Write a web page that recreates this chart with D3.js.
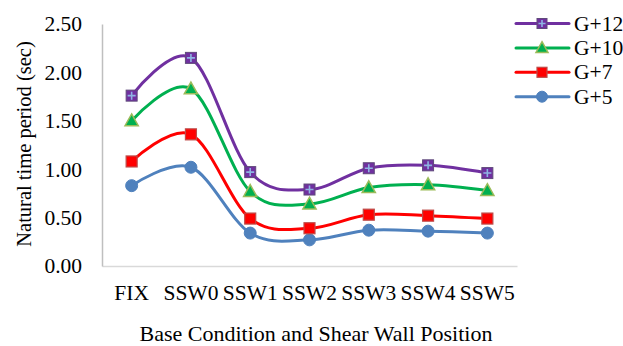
<!DOCTYPE html>
<html><head><meta charset="utf-8">
<script src="https://cdn.jsdelivr.net/npm/d3@7"></script>
<style>body{margin:0;background:#fff}svg{display:block}text{font-family:"Liberation Serif",serif;fill:#000}</style>
</head><body><svg id="c" width="623" height="346"></svg>
<script>
const categories = ["FIX","SSW0","SSW1","SSW2","SSW3","SSW4","SSW5"];
const seriesNames = ["G+12","G+10","G+7","G+5"];
const g12 = [1.76,2.15,0.97,0.79,1.01,1.04,0.96];
const g10 = [1.50,1.83,0.77,0.64,0.81,0.84,0.78];
const g7  = [1.08,1.36,0.49,0.39,0.53,0.52,0.49];
const g5  = [0.83,1.02,0.34,0.27,0.37,0.36,0.34];
const yTicks = [0,0.5,1,1.5,2,2.5];
const colors = ["#7030a0","#00b050","#ff0000","#4f81bd"];
const markers = ["plus","triangle","square","circle"];
const seriesVals = [g12,g10,g7,g5];

const svg = d3.select("#c");
const x = d3.scaleBand().domain(categories).range([102,517]);
const y = d3.scaleLinear().domain([0,2.5]).range([266,24]);
const fs = 21.5;

// axes
const xa = svg.append("g").attr("transform","translate(0,266)")
  .call(d3.axisBottom(x).tickSize(0).tickPadding(19));
xa.select(".domain").attr("stroke","#d9d9d9").attr("stroke-width",1.5);
xa.selectAll("text").attr("font-size",fs).attr("font-family","Liberation Serif");
const ya = svg.append("g").attr("transform","translate(102,0)")
  .call(d3.axisLeft(y).tickValues(yTicks).tickFormat(d3.format(".2f")).tickSize(0).tickPadding(20));
ya.select(".domain").attr("stroke","#bfbfbf").attr("stroke-width",1.5);
ya.selectAll("text").attr("font-size",fs).attr("font-family","Liberation Serif");

svg.append("text").attr("x",316).attr("y",341).attr("text-anchor","middle")
  .attr("font-size",22).text("Base Condition and Shear Wall Position");
svg.append("text").attr("transform","translate(31,144) rotate(-90)").attr("text-anchor","middle")
  .attr("font-size",20.5).text("Natural time period (sec)");

function drawMarker(g, type, color, cx, cy, s){
  if(type==="plus"){
    g.append("rect").attr("x",cx-s/2).attr("y",cy-s/2).attr("width",s).attr("height",s)
      .attr("fill",color).attr("stroke","#604a7b").attr("stroke-width",1);
    g.append("path").attr("d",`M${cx-s/2+1.5},${cy}H${cx+s/2-1.5}M${cx},${cy-s/2+1.5}V${cy+s/2-1.5}`)
      .attr("stroke","#8eb4e3").attr("stroke-width",1.6);
  } else if(type==="triangle"){
    const h=s*1.0;
    g.append("path").attr("d",`M${cx},${cy-h*0.62}L${cx+s*0.6},${cy+h*0.45}L${cx-s*0.6},${cy+h*0.45}Z`)
      .attr("fill",color).attr("stroke","#9bbb59").attr("stroke-width",1.5);
  } else if(type==="square"){
    g.append("rect").attr("x",cx-s/2).attr("y",cy-s/2).attr("width",s).attr("height",s)
      .attr("fill",color).attr("stroke","#be4b48").attr("stroke-width",1.2);
  } else {
    g.append("circle").attr("cx",cx).attr("cy",cy).attr("r",s/2+0.5)
      .attr("fill",color).attr("stroke",color).attr("stroke-width",1);
  }
}

const line = d3.line().x((d,i)=>x(categories[i])+x.bandwidth()/2).y(d=>y(d))
  .curve(d3.curveCardinal.tension(0));

// draw back-to-front: G+5 first
for(let k=seriesVals.length-1;k>=0;k--){
  const g = svg.append("g");
  g.append("path").attr("d",line(seriesVals[k])).attr("fill","none")
    .attr("stroke",colors[k]).attr("stroke-width",3).attr("stroke-linecap","round");
  seriesVals[k].forEach((v,i)=>drawMarker(g,markers[k],colors[k],x(categories[i])+x.bandwidth()/2,y(v),11));
}

// legend
seriesNames.forEach((n,k)=>{
  const ly = 23.5 + k*24.4;
  const g = svg.append("g");
  g.append("line").attr("x1",516).attr("x2",569).attr("y1",ly).attr("y2",ly)
    .attr("stroke",colors[k]).attr("stroke-width",3).attr("stroke-linecap","round");
  drawMarker(g,markers[k],colors[k],542,ly,10);
  g.append("text").attr("x",574).attr("y",ly+7).attr("font-size",fs).text(n);
});
</script></body></html>
